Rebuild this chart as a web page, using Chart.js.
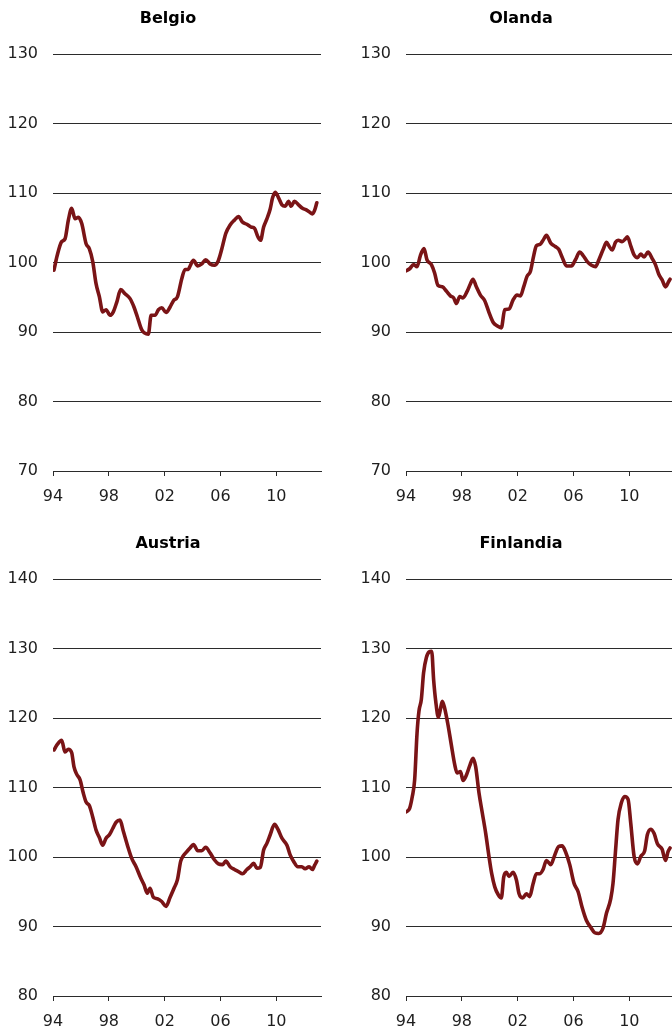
<!DOCTYPE html>
<html>
<head>
<meta charset="utf-8">
<script src="https://cdn.jsdelivr.net/npm/chart.js@4.4.1/dist/chart.umd.min.js"></script>
<style>
  html, body { margin: 0; padding: 0; background: #fff; }
  body { width: 672px; height: 1029px; overflow: hidden; position: relative; }
  .box { position: absolute; width: 336px; height: 520px; }
  .titolo { position: absolute; width: 336px; text-align: center; height: 20px; line-height: 20px;
            font: bold 16px 'DejaVu Sans', Verdana, sans-serif; color: #000; }
</style>
</head>
<body>
<div class="box" style="left:0;top:0"><canvas id="belgio"></canvas></div>
<div class="box" style="left:353px;top:0"><canvas id="olanda"></canvas></div>
<div class="box" style="left:0;top:525px"><canvas id="austria"></canvas></div>
<div class="box" style="left:353px;top:525px"><canvas id="finlandia"></canvas></div>
<div class="titolo" style="left:0;top:8px">Belgio</div>
<div class="titolo" style="left:353px;top:8px">Olanda</div>
<div class="titolo" style="left:0;top:533px">Austria</div>
<div class="titolo" style="left:353px;top:533px">Finlandia</div>
<script>
// valori (anno decimale, indice)
const xTicks = [1994, 1998, 2002, 2006, 2010];

const belgioAnni = [1994.07, 1994.3, 1994.62, 1994.86, 1995.1, 1995.34, 1995.58, 1995.82, 1996.06, 1996.37, 1996.6, 1996.85, 1997.08, 1997.32, 1997.56, 1997.8, 1998.09, 1998.32, 1998.57, 1998.85, 1999.16, 1999.52, 1999.8, 2000.04, 2000.36, 2000.83, 2001.03, 2001.31, 2001.55, 2001.79, 2002.1, 2002.39, 2002.63, 2002.92, 2003.23, 2003.46, 2003.7, 2003.82, 2004.06, 2004.37, 2004.66, 2004.94, 2005.25, 2005.56, 2005.85, 2006.1, 2006.38, 2006.69, 2007.0, 2007.29, 2007.58, 2007.89, 2008.2, 2008.44, 2008.68, 2008.87, 2009.09, 2009.33, 2009.56, 2009.73, 2009.92, 2010.16, 2010.4, 2010.64, 2010.87, 2011.06, 2011.3, 2011.59, 2011.87, 2012.11, 2012.35, 2012.59, 2012.74, 2012.9];
const belgioValori = [98.9, 101.0, 103.0, 103.4, 106.1, 107.8, 106.3, 106.5, 105.6, 102.7, 102.0, 100.1, 97.0, 95.1, 92.9, 93.2, 92.4, 92.9, 94.3, 96.1, 95.5, 94.8, 93.6, 92.2, 90.3, 89.7, 92.4, 92.4, 93.2, 93.5, 92.8, 93.6, 94.5, 95.1, 97.7, 99.0, 99.0, 99.5, 100.3, 99.5, 99.8, 100.4, 99.8, 99.6, 100.3, 102.0, 104.2, 105.4, 106.1, 106.6, 105.8, 105.5, 105.1, 104.9, 103.7, 103.2, 105.1, 106.3, 107.7, 109.3, 110.1, 109.3, 108.3, 108.1, 108.8, 108.1, 108.8, 108.3, 107.8, 107.6, 107.3, 107.0, 107.5, 108.6];

const olandaAnni = [1994.02, 1994.26, 1994.55, 1994.79, 1995.03, 1995.29, 1995.5, 1995.82, 1996.05, 1996.29, 1996.6, 1996.89, 1997.18, 1997.42, 1997.61, 1997.85, 1998.08, 1998.37, 1998.61, 1998.8, 1999.04, 1999.33, 1999.64, 1999.95, 2000.24, 2000.52, 2000.83, 2001.07, 2001.38, 2001.67, 2001.96, 2002.2, 2002.43, 2002.67, 2002.91, 2003.15, 2003.34, 2003.6, 2003.82, 2004.06, 2004.37, 2004.7, 2004.94, 2005.18, 2005.5, 2005.85, 2006.14, 2006.45, 2006.69, 2007.0, 2007.29, 2007.58, 2007.82, 2008.13, 2008.37, 2008.53, 2008.77, 2009.01, 2009.2, 2009.48, 2009.72, 2009.86, 2010.1, 2010.34, 2010.58, 2010.82, 2011.06, 2011.34, 2011.63, 2011.87, 2012.11, 2012.35, 2012.59, 2012.83, 2012.92];
const olandaValori = [98.8, 99.1, 99.7, 99.4, 101.0, 102.0, 100.4, 99.7, 98.5, 96.7, 96.5, 95.9, 95.2, 94.9, 94.1, 95.1, 94.9, 95.8, 96.9, 97.6, 96.5, 95.3, 94.5, 92.8, 91.4, 90.9, 90.6, 93.2, 93.3, 94.6, 95.3, 95.2, 96.5, 98.0, 98.7, 101.0, 102.4, 102.6, 103.2, 103.9, 102.8, 102.3, 101.9, 100.8, 99.5, 99.5, 100.4, 101.5, 101.0, 100.1, 99.6, 99.4, 100.4, 101.9, 102.9, 102.4, 101.8, 102.9, 103.2, 103.0, 103.4, 103.7, 102.4, 101.1, 100.7, 101.2, 100.8, 101.5, 100.6, 99.7, 98.3, 97.5, 96.5, 97.3, 97.6];

const austriaAnni = [1994.07, 1994.31, 1994.62, 1994.86, 1995.1, 1995.34, 1995.5, 1995.7, 1995.94, 1996.17, 1996.37, 1996.6, 1996.84, 1997.08, 1997.32, 1997.56, 1997.8, 1998.04, 1998.28, 1998.52, 1998.8, 1999.04, 1999.33, 1999.64, 1999.95, 2000.24, 2000.52, 2000.76, 2000.95, 2001.19, 2001.48, 2001.79, 2002.1, 2002.39, 2002.67, 2002.91, 2003.15, 2003.34, 2003.6, 2003.82, 2004.06, 2004.37, 2004.66, 2004.94, 2005.25, 2005.56, 2005.85, 2006.14, 2006.38, 2006.69, 2007.0, 2007.29, 2007.58, 2007.89, 2008.13, 2008.37, 2008.61, 2008.85, 2009.09, 2009.33, 2009.56, 2009.87, 2010.11, 2010.4, 2010.76, 2010.99, 2011.23, 2011.54, 2011.83, 2012.06, 2012.35, 2012.59, 2012.74, 2012.9];
const austriaValori = [115.4, 116.2, 116.8, 115.1, 115.5, 115.0, 113.0, 111.9, 111.1, 109.2, 107.9, 107.4, 105.8, 103.9, 102.8, 101.7, 102.7, 103.2, 104.1, 105.0, 105.3, 103.7, 101.7, 99.8, 98.6, 97.2, 96.0, 94.8, 95.5, 94.2, 94.0, 93.6, 92.9, 94.2, 95.5, 96.7, 99.4, 100.2, 100.8, 101.3, 101.8, 100.9, 100.9, 101.4, 100.6, 99.6, 99.0, 98.9, 99.4, 98.6, 98.2, 97.9, 97.6, 98.2, 98.6, 99.1, 98.4, 98.5, 101.0, 102.0, 103.2, 104.7, 104.0, 102.7, 101.7, 100.3, 99.4, 98.6, 98.6, 98.3, 98.6, 98.2, 98.8, 99.4];

const finlandiaAnni = [1994.02, 1994.26, 1994.45, 1994.62, 1994.79, 1994.93, 1995.1, 1995.26, 1995.46, 1995.65, 1995.84, 1995.98, 1996.13, 1996.32, 1996.46, 1996.6, 1996.77, 1997.01, 1997.25, 1997.49, 1997.66, 1997.9, 1998.09, 1998.33, 1998.56, 1998.8, 1998.99, 1999.23, 1999.47, 1999.71, 1999.95, 2000.14, 2000.36, 2000.6, 2000.83, 2001.0, 2001.19, 2001.38, 2001.67, 2001.91, 2002.1, 2002.34, 2002.63, 2002.86, 2003.1, 2003.34, 2003.6, 2003.82, 2004.06, 2004.37, 2004.66, 2004.94, 2005.18, 2005.42, 2005.73, 2006.04, 2006.33, 2006.61, 2006.92, 2007.23, 2007.52, 2007.81, 2008.12, 2008.36, 2008.67, 2008.83, 2009.0, 2009.19, 2009.43, 2009.67, 2009.91, 2010.1, 2010.34, 2010.58, 2010.82, 2011.1, 2011.29, 2011.53, 2011.77, 2012.01, 2012.35, 2012.59, 2012.78, 2012.92];
const finlandiaValori = [106.5, 107.0, 108.7, 111.1, 117.8, 121.0, 122.7, 126.5, 128.7, 129.5, 129.6, 125.5, 122.4, 120.1, 121.2, 122.4, 121.4, 119.0, 116.1, 113.3, 112.1, 112.3, 111.0, 111.8, 113.1, 114.2, 113.0, 109.2, 106.3, 103.4, 100.0, 97.6, 95.7, 94.6, 94.1, 97.1, 97.8, 97.2, 97.8, 96.7, 94.7, 94.1, 94.7, 94.3, 96.1, 97.6, 97.6, 98.2, 99.5, 98.9, 100.3, 101.5, 101.6, 100.8, 98.9, 96.2, 95.0, 92.8, 90.9, 89.9, 89.1, 89.0, 89.8, 91.9, 94.0, 96.2, 100.6, 105.4, 107.8, 108.7, 108.3, 104.9, 100.1, 99.0, 100.1, 100.9, 103.2, 104.0, 103.4, 101.9, 101.1, 99.5, 100.8, 101.3];

const lineColor = '#7a1416';
const gridColor = '#2b2b2b';
const textColor = '#1e1e1e';
Chart.defaults.font.family = "'DejaVu Sans', Verdana, sans-serif";
Chart.defaults.color = textColor;

function pannello(id, anni, valori, yMin, yMax) {
  const ctx = document.getElementById(id).getContext('2d');
  return new Chart(ctx, {
    type: 'line',
    data: {
      datasets: [{
        data: anni.map((a, i) => ({ x: a, y: valori[i] })),
        borderColor: lineColor,
        borderWidth: 3.6,
        borderCapStyle: 'round',
        borderJoinStyle: 'round',
        pointRadius: 0,
        cubicInterpolationMode: 'monotone',
        fill: false
      }]
    },
    options: {
      responsive: false,
      animation: false,
      layout: { padding: { left: 0, right: 15, top: 54, bottom: 0 } },
      plugins: {
        legend: { display: false },
        tooltip: { enabled: false },
        title: { display: false }
      },
      scales: {
        x: {
          type: 'linear',
          min: 1994,
          max: 2013.2,
          afterFit: s => { s.height = 49; },
          afterBuildTicks: s => { s.ticks = xTicks.map(v => ({ value: v })); },
          grid: { drawOnChartArea: false, drawTicks: true, tickLength: 5, color: gridColor },
          border: { display: true, color: gridColor },
          ticks: {
            padding: 11,
            maxRotation: 0,
            font: { size: 16 },
            callback: v => String(v).slice(2)
          }
        },
        y: {
          min: yMin,
          max: yMax,
          afterFit: s => { s.width = 53; },
          grid: { drawTicks: false, color: gridColor },
          border: { display: false },
          ticks: { stepSize: 10, padding: 15, font: { size: 16 } }
        }
      }
    }
  });
}

for (const id of ['belgio', 'olanda', 'austria', 'finlandia']) {
  const c = document.getElementById(id);
  c.width = 336; c.height = 520;
  c.style.width = '336px'; c.style.height = '520px';
}

pannello('belgio', belgioAnni, belgioValori, 70, 130);
pannello('olanda', olandaAnni, olandaValori, 70, 130);
pannello('austria', austriaAnni, austriaValori, 80, 140);
pannello('finlandia', finlandiaAnni, finlandiaValori, 80, 140);
</script>
</body>
</html>
